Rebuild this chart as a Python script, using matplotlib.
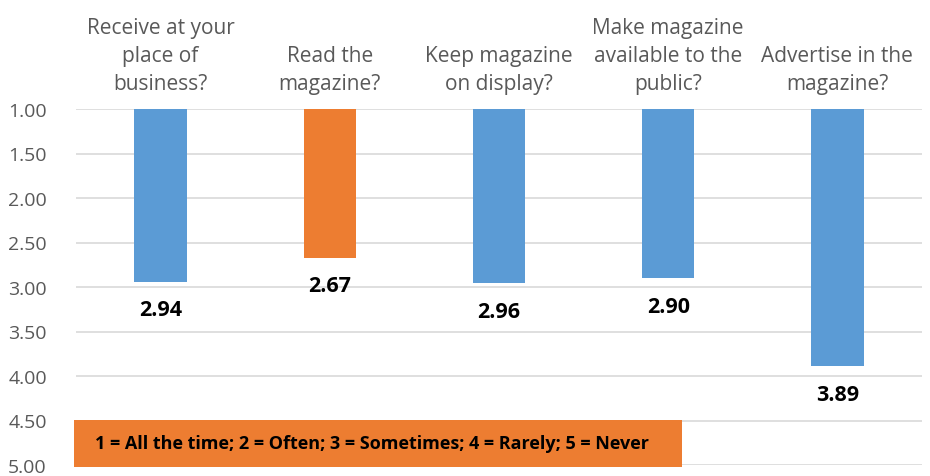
import matplotlib
matplotlib.use("Agg")
import matplotlib.pyplot as plt
from matplotlib.patches import Rectangle
from matplotlib.transforms import blended_transform_factory

categories = [
    "Receive at your\nplace of\nbusiness?",
    "Read the\nmagazine?",
    "Keep magazine\non display?",
    "Make magazine\navailable to the\npublic?",
    "Advertise in the\nmagazine?",
]
values = [2.94, 2.67, 2.96, 2.90, 3.89]
colors = ["#5B9BD5", "#ED7D31", "#5B9BD5", "#5B9BD5", "#5B9BD5"]
yticks = [1.00, 1.50, 2.00, 2.50, 3.00, 3.50, 4.00, 4.50, 5.00]
scale_note = "1 = All the time; 2 = Often; 3 = Sometimes; 4 = Rarely; 5 = Never"

plt.rcParams["font.family"] = ["Open Sans", "DejaVu Sans"]

fig = plt.figure(figsize=(9.30, 4.77), dpi=100)
ax = fig.add_axes([76 / 930, 1 - 466 / 477, 846 / 930, 356 / 477])

base = 1.0
x = list(range(len(values)))
ax.bar(x, [v - base for v in values], bottom=base, width=0.31, color=colors, zorder=3)

# Value labels just below the end of each bar
for xi, v in zip(x, values):
    ax.annotate(f"{v:.2f}", (xi, v), xytext=(0, -28), textcoords="offset pixels",
                ha="center", va="center", fontsize=15.5, fontweight="bold", color="black")

ax.set_xlim(-0.5, len(values) - 0.5)
ax.set_ylim(5.0, 1.0)
ax.set_yticks(yticks)
ax.set_yticklabels([f"{t:.2f}" for t in yticks])
ax.tick_params(axis="y", length=0, labelsize=14, labelcolor="#595959", pad=21)
ax.tick_params(axis="x", length=0, labelbottom=False)
ax.grid(axis="y", color="#D9D9D9", linewidth=1.2, zorder=0)
for s in ax.spines.values():
    s.set_visible(False)

# Category questions above the plot area
for xi, c in zip(x, categories):
    ax.annotate(c, (xi, 1.0), xytext=(0, 15), textcoords="offset pixels",
                ha="center", va="bottom", fontsize=15, color="#595959",
                linespacing=1.45, annotation_clip=False)

# Scale note box
tr = blended_transform_factory(ax.transAxes, ax.transData)
ax.add_patch(Rectangle((-0.002, 4.49), 0.718, 0.53, transform=tr,
                       facecolor="#ED7D31", edgecolor="none", clip_on=False, zorder=4))
ax.text(0.022, 4.755, scale_note, transform=tr, ha="left", va="center",
        fontsize=13, fontweight="bold", color="black", zorder=5)

fig.savefig("out.png", dpi=100)
